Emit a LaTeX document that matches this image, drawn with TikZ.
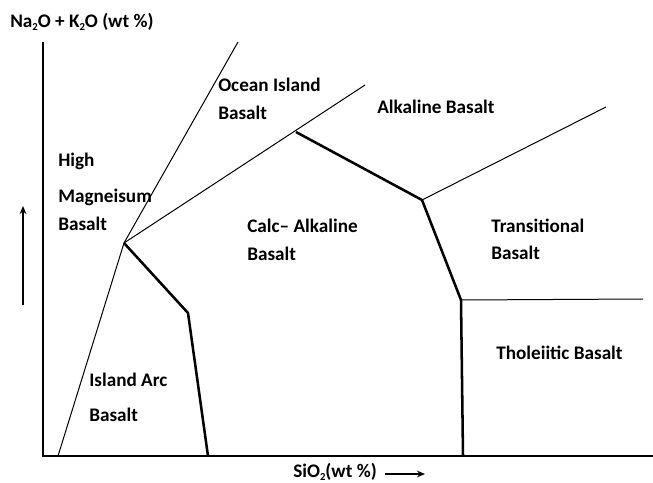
\documentclass[tikz,border=0pt]{standalone}
\usepackage{fontspec}
\setmainfont{Carlito}
\usetikzlibrary{arrows.meta}
\newcommand{\subtwo}{\raisebox{-0.25ex}{\fontsize{8}{8}\selectfont 2}}
\begin{document}
\begin{tikzpicture}[x=0.75pt,y=-0.75pt,
  lbl/.style={font=\fontsize{14.4}{16}\selectfont\bfseries, anchor=west, inner sep=0pt},
  thinline/.style={line width=0.75pt},
  thickline/.style={line width=1.9pt, line join=round},
  axisline/.style={line width=1.5pt},
  dirarrow/.style={line width=1.2pt, -{Stealth[length=6pt,width=5pt]}}]
\useasboundingbox (0,0) rectangle (653,482);
% coordinates
\coordinate (yt) at (43,42);
\coordinate (o) at (43,456);
\coordinate (xe) at (653,456);
\coordinate (hm) at (124,243);
\coordinate (obot) at (58,456);
\coordinate (otop) at (238,42);
\coordinate (atop) at (365,85);
\coordinate (iak) at (188,313);
\coordinate (iab) at (208,456);
\coordinate (ca) at (296,132);
\coordinate (tr) at (422,200);
\coordinate (trend) at (606,107);
\coordinate (th) at (461,300);
\coordinate (thend) at (643,299);
\coordinate (thb) at (463,456);
\coordinate (ua) at (23,305);
\coordinate (ub) at (23,206);
\coordinate (ra) at (385,474);
\coordinate (rb) at (425,474);
% axes
\draw[axisline] (yt) -- (o) -- (xe);
% boundaries
\draw[thinline] (obot) -- (hm) -- (otop);
\draw[thinline] (hm) -- (atop);
\draw[thickline] (hm) -- (iak) -- (iab);
\draw[thickline] (ca) -- (tr) -- (th) -- (thb);
\draw[thinline] (tr) -- (trend);
\draw[thinline] (th) -- (thend);
% arrows
\draw[dirarrow] (ua) -- (ub);
\draw[dirarrow] (ra) -- (rb);
% labels
\node[lbl] (ytitle) at (10,22) {Na\subtwo O + K\subtwo O (wt \%)};
\node[lbl] (xtitle) at (293,472) {SiO\subtwo(wt \%)};
\node[lbl] (oib1) at (218,85) {Ocean Island};
\node[lbl] (oib2) at (218,113) {Basalt};
\node[lbl] (ab) at (377,107) {Alkaline Basalt};
\node[lbl] (hmb1) at (58,161) {High};
\node[lbl] (hmb2) at (58,197) {Magneisum};
\node[lbl] (hmb3) at (58,224) {Basalt};
\node[lbl] (cab1) at (247,226) {Calc– Alkaline};
\node[lbl] (cab2) at (247,254) {Basalt};
\node[lbl] (tb1) at (491,226) {Transitional};
\node[lbl] (tb2) at (491,253) {Basalt};
\node[lbl] (thb1) at (496,353) {Tholeiitic Basalt};
\node[lbl] (iab1) at (89,380) {Island Arc};
\node[lbl] (iab2) at (89,415) {Basalt};
\end{tikzpicture}
\end{document}
